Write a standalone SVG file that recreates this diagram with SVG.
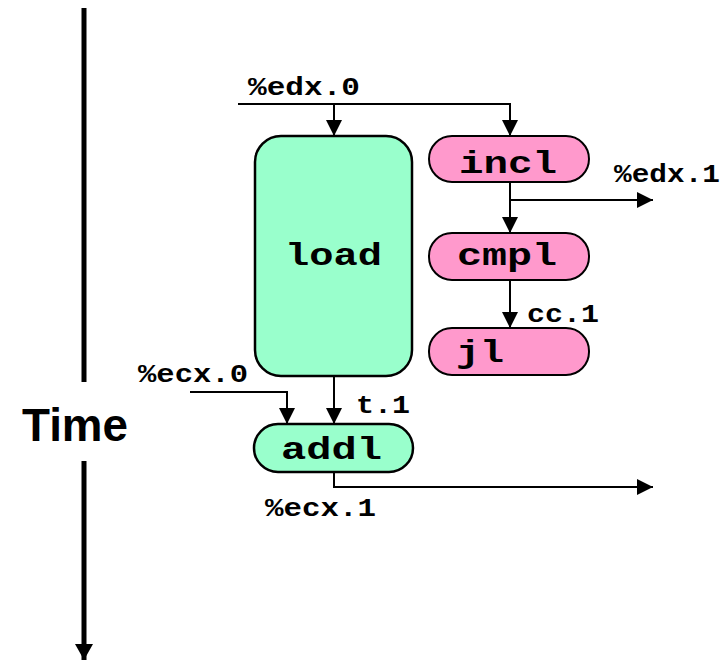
<svg xmlns="http://www.w3.org/2000/svg" width="726" height="661" viewBox="0 0 726 661">
<defs>
<marker id="ah" markerUnits="userSpaceOnUse" markerWidth="16" markerHeight="16" refX="16" refY="8" orient="auto">
<path d="M0,0 L16,8 L0,16 z" fill="#000"/>
</marker>
<marker id="ahBig" markerUnits="userSpaceOnUse" markerWidth="18" markerHeight="18" refX="16" refY="9" orient="auto">
<path d="M0,0 L16,9 L0,18 z" fill="#000"/>
</marker>
<style>
.c{fill:none;stroke:#000;stroke-width:2}
.green{fill:#99FFCC;stroke:#000;stroke-width:2.5}
.pink{fill:#FF99CC;stroke:#000;stroke-width:2}
.nl{font-family:"Liberation Mono","Courier New",monospace;font-weight:bold;font-size:31px;fill:#000}
.el{font-family:"Liberation Mono","Courier New",monospace;font-weight:bold;font-size:25px;fill:#000}
.t{font-family:"Liberation Sans",Arial,sans-serif;font-weight:bold;font-size:46px;fill:#000}
</style>
</defs>
<rect width="726" height="661" fill="#fff"/>
<g id="time-axis">
<path d="M84,8 V382" stroke="#000" stroke-width="5" fill="none"/>
<path d="M84,461 V660" stroke="#000" stroke-width="5" fill="none" marker-end="url(#ahBig)"/>
<text class="t" x="22" y="441" textLength="106" lengthAdjust="spacingAndGlyphs">Time</text>
</g>
<g id="connectors">
<path class="c" d="M238,104 H510 V136" marker-end="url(#ah)"/>
<path class="c" d="M334,104 V136" marker-end="url(#ah)"/>
<path class="c" d="M510,182 V233" marker-end="url(#ah)"/>
<path class="c" d="M510,200 H653" marker-end="url(#ah)"/>
<path class="c" d="M510,280 V328" marker-end="url(#ah)"/>
<path class="c" d="M334,376 V424" marker-end="url(#ah)"/>
<path class="c" d="M190,392 H287 V424" marker-end="url(#ah)"/>
<path class="c" d="M334,472 V487 H653" marker-end="url(#ah)"/>
<text class="el" x="248" y="95" textLength="112" lengthAdjust="spacingAndGlyphs">%edx.0</text>
<text class="el" x="614" y="182" textLength="106" lengthAdjust="spacingAndGlyphs">%edx.1</text>
<text class="el" x="527" y="322" textLength="72" lengthAdjust="spacingAndGlyphs">cc.1</text>
<text class="el" x="138" y="382" textLength="110" lengthAdjust="spacingAndGlyphs">%ecx.0</text>
<text class="el" x="356" y="413" textLength="54" lengthAdjust="spacingAndGlyphs">t.1</text>
<text class="el" x="265" y="516" textLength="111" lengthAdjust="spacingAndGlyphs">%ecx.1</text>
</g>
<g id="load">
<rect class="green" x="255" y="136" width="157" height="240" rx="26" ry="26"/>
<text class="nl" x="285" y="265" textLength="97" lengthAdjust="spacingAndGlyphs">load</text>
</g>
<g id="incl">
<rect class="pink" x="429" y="136" width="160" height="46" rx="23" ry="23"/>
<text class="nl" x="459" y="173" textLength="98" lengthAdjust="spacingAndGlyphs">incl</text>
</g>
<g id="cmpl">
<rect class="pink" x="429" y="233" width="160" height="47" rx="23" ry="23"/>
<text class="nl" x="457" y="265" textLength="100" lengthAdjust="spacingAndGlyphs">cmpl</text>
</g>
<g id="jl">
<rect class="pink" x="429" y="328" width="160" height="47" rx="23" ry="23"/>
<text class="nl" x="456" y="362" textLength="48" lengthAdjust="spacingAndGlyphs">jl</text>
</g>
<g id="addl">
<rect class="green" x="254" y="424" width="159" height="48" rx="24" ry="24"/>
<text class="nl" x="281" y="459" textLength="101" lengthAdjust="spacingAndGlyphs">addl</text>
</g>
</svg>
